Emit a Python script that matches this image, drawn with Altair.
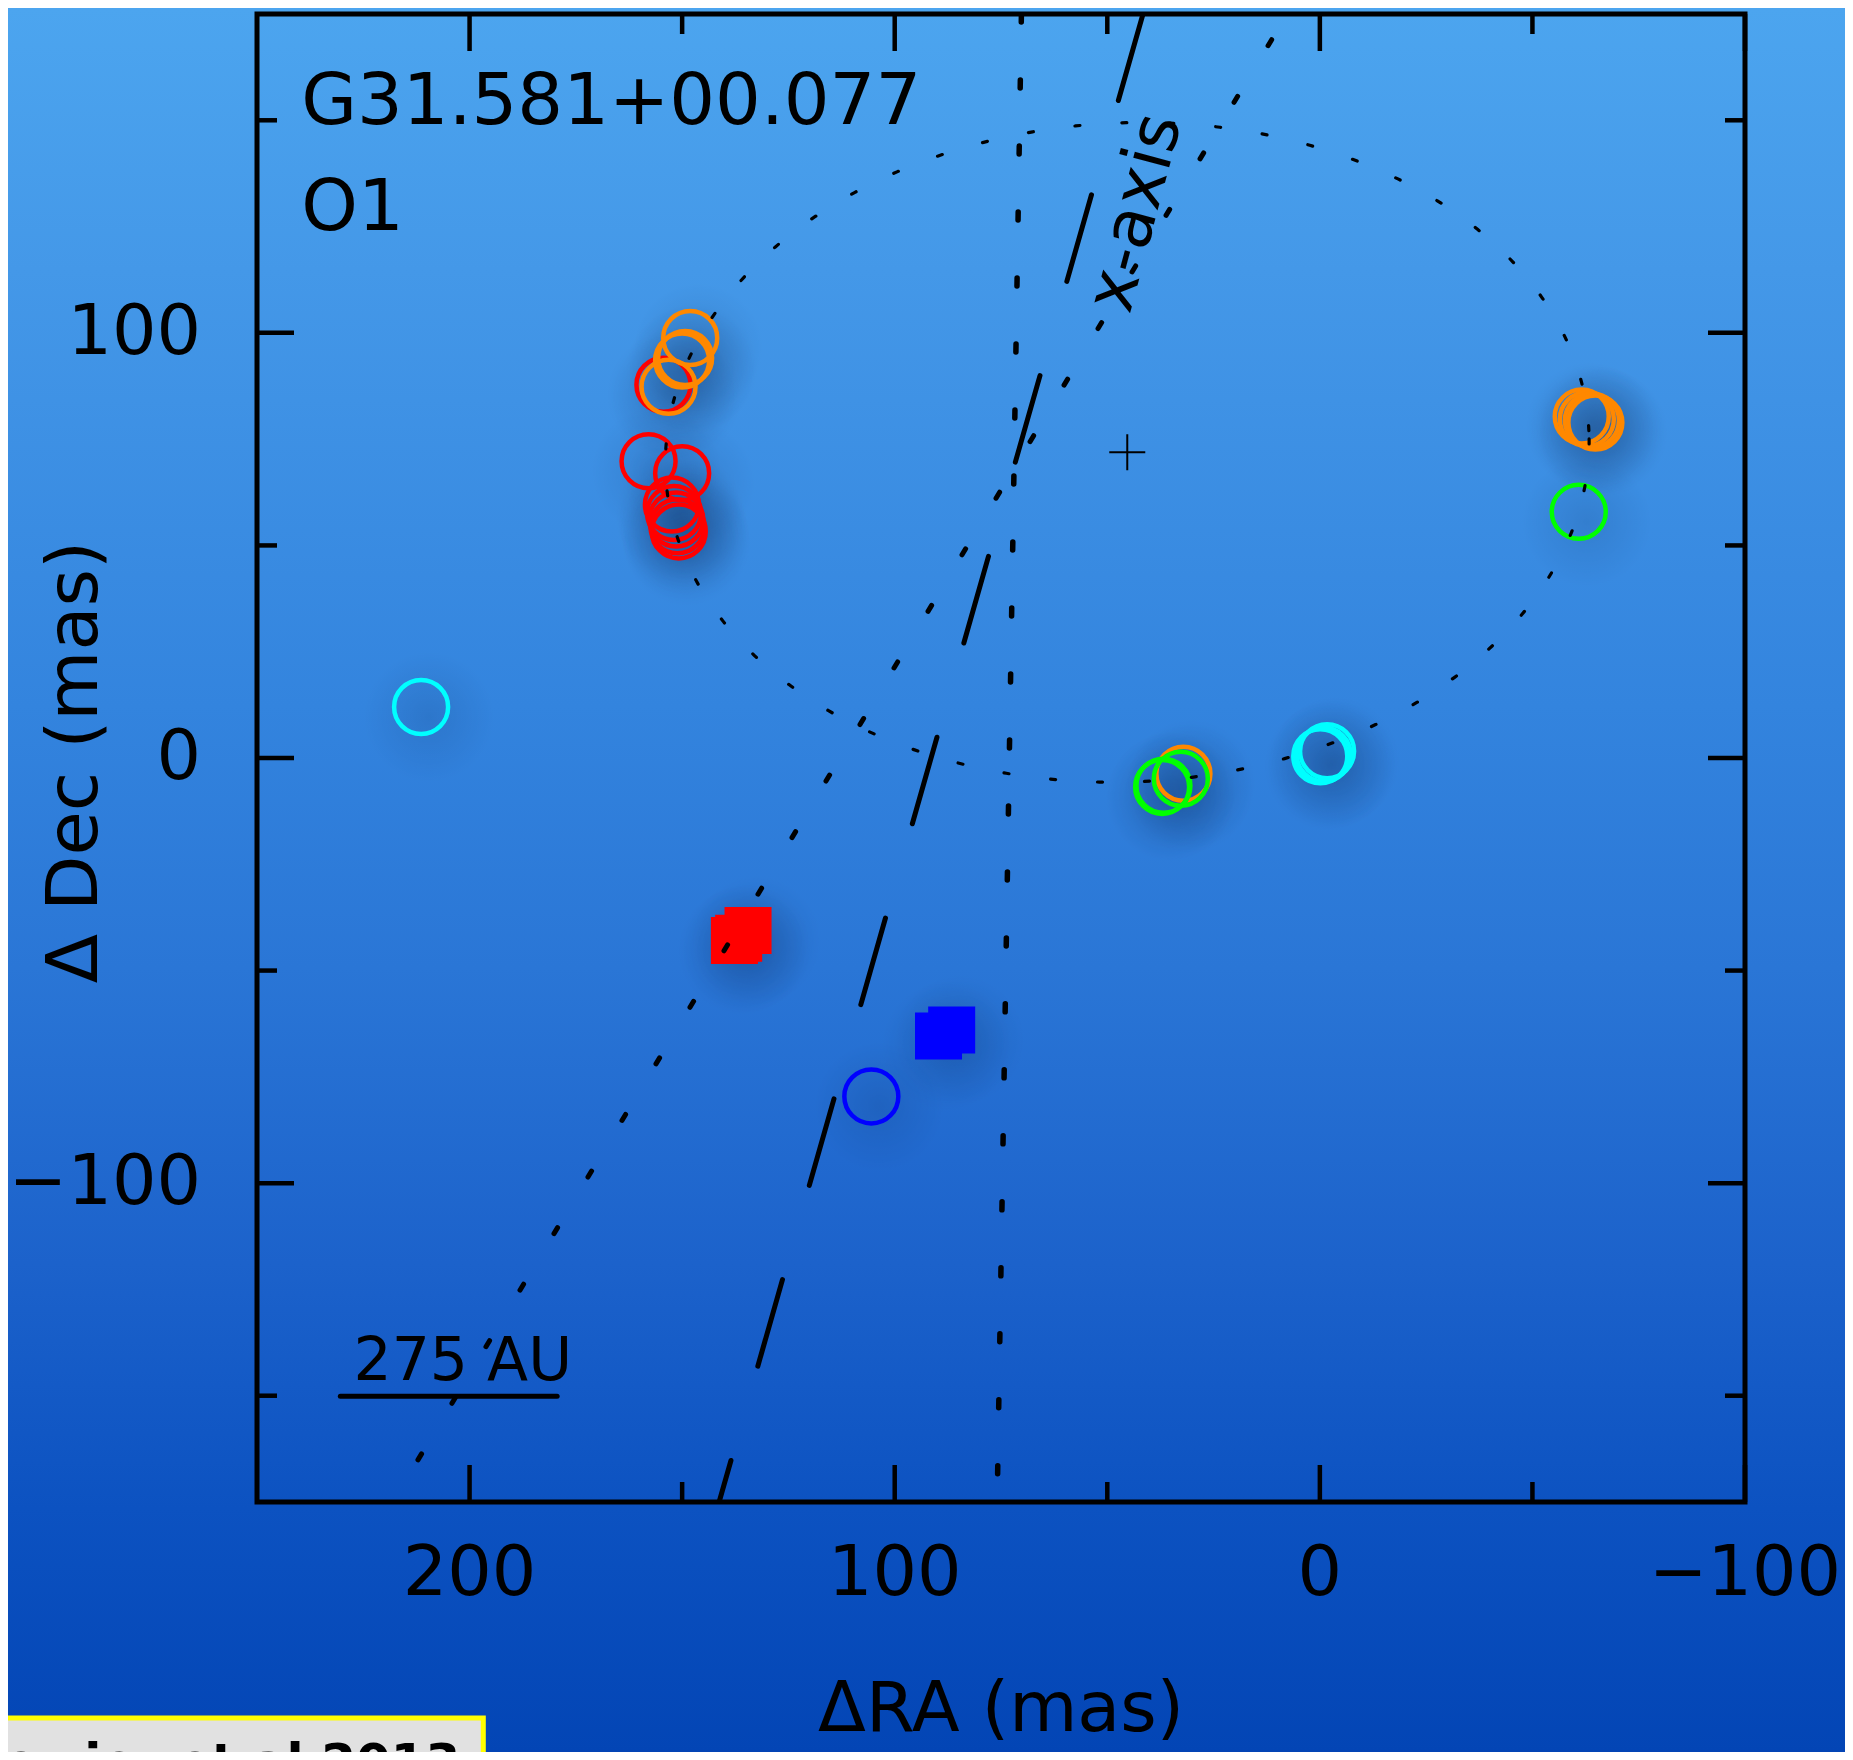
import altair as alt
import numpy as np
import pandas as pd

# ---------------- data (mas) ----------------
X_DOMAIN = [250, -100]
Y_DOMAIN = [-175, 175]

circle_ra = [154.4, 157.9, 150.0, 152.4, 151.9, 151.4, 151.1, 150.8,
             148.1, 150.0, 149.3, 153.2, -61.6, -62.8, -64.0, -64.8, 32.1,
             -60.9, 37.1, 36.8, 32.7,
             211.4, -0.1, -1.7, -0.9,
             105.5]
circle_dec = [87.8, 69.8, 67.0, 59.6, 57.6, 56.1, 54.5, 53.3,
              98.8, 93.5, 94.1, 87.3, 80.3, 79.7, 79.4, 78.9, -3.7,
              57.9, -6.8, -6.5, -4.9,
              12.0, 0.4, 1.6, 0.8,
              -79.6]
circle_group = ["red", "red", "red", "red", "red", "red", "red", "red",
                "orange", "orange", "orange", "orange", "orange", "orange", "orange", "orange", "orange",
                "green", "green", "green", "green",
                "cyan", "cyan", "cyan", "cyan",
                "blue"]

square_ra = [134.5, 137.7, 136.7, 86.6, 89.7]
square_dec = [-40.6, -42.9, -42.4, -64.0, -65.4]
square_group = ["red", "red", "red", "blue", "blue"]

group_names = ["red", "orange", "green", "cyan", "blue"]
group_colors = ["#ff0000", "#ff8800", "#00ff00", "#00ffff", "#0000ff"]

# fitted ellipse (centre, semi-axes, tilt in degrees)
ell_center = [45.3, 71.9]
ell_axes = [108.7, 77.5]
ell_tilt = 2.7

# straight lines: start (top) and end (bottom) points
long_dash_line = [[41.6, 175.0], [141.3, -175.0]]
dotted_line = [[70.2, 175.0], [75.9, -175.0]]
sparse_dash_line = [[7.7, 175.0], [218.1, -175.0]]

x_major = [200, 100, 0, -100]
x_major_labels = ["200", "100", "0", "−100"]
x_minor = [150, 50, -50]
y_major = [100, 0, -100]
y_major_labels = ["100", "0", "−100"]
y_minor = [150, 50, -50, -150]
x_title = "ΔRA (mas)"
y_title = "Δ Dec (mas)"

label_texts = ["G31.581+00.077", "O1"]
label_x = [239.6, 239.6]
label_y = [149.1, 124.2]

scalebar_x = [230.4, 179.4]
scalebar_y = -150.1
scalebar_text = "275 AU"
scalebar_text_pos = [227.3, -146.3]

axis_label_text = "x-axis"
axis_label_pos = [43.2, 128.2]
centre_cross = [45.3, 71.9]

citation = "owicz et al 2013"

# ---------------- chart ----------------
W = H = 1488
FONT = "DejaVu Sans"
xs = alt.Scale(domain=X_DOMAIN, nice=False, zero=False)
ys = alt.Scale(domain=Y_DOMAIN, nice=False, zero=False)
cs = alt.Scale(domain=group_names, range=group_colors)
one = pd.DataFrame({"a": [0]})


def X(f):
    return alt.X(f, scale=xs, axis=None)


def Y(f):
    return alt.Y(f, scale=ys, axis=None)


bg = alt.Chart(one).mark_rect(
    fill={"gradient": "linear", "x1": 0, "y1": 0, "x2": 0, "y2": 1,
          "stops": [{"offset": 0, "color": "#4ca5ef"},
                    {"offset": 0.15, "color": "#4498e8"},
                    {"offset": 0.4, "color": "#3384de"},
                    {"offset": 0.55, "color": "#2a76d6"},
                    {"offset": 0.72, "color": "#1c62cb"},
                    {"offset": 0.86, "color": "#0c52c1"},
                    {"offset": 1, "color": "#0345b5"}]},
    strokeWidth=0,
).encode(x=alt.value(-249), x2=alt.value(W + 100), y=alt.value(-6), y2=alt.value(H + 250))

cdf = pd.DataFrame({"ra": circle_ra, "dec": circle_dec, "g": circle_group})
cdf["i"] = range(len(cdf))
sdf = pd.DataFrame({"ra": square_ra, "dec": square_dec, "g": square_group})
hdf = pd.concat([cdf[["ra", "dec"]], sdf[["ra", "dec"]]], ignore_index=True)

halo = alt.Chart(hdf).mark_point(
    shape="circle", filled=True, size=130 ** 2, strokeWidth=0, xOffset=8, yOffset=10,
    fill={"gradient": "radial", "x1": 0.5, "y1": 0.5, "r1": 0, "x2": 0.5, "y2": 0.5, "r2": 0.5,
          "stops": [{"offset": 0, "color": "rgba(0,20,60,0.17)"},
                    {"offset": 1, "color": "rgba(0,20,60,0)"}]},
).encode(x=X("ra:Q"), y=Y("dec:Q"))

circles = alt.Chart(cdf).mark_point(shape="circle", filled=False, size=2916, strokeWidth=4.5, opacity=1).encode(
    x=X("ra:Q"), y=Y("dec:Q"),
    color=alt.Color("g:N", scale=cs, legend=None),
    order=alt.Order("i:Q"),
)

squares = alt.Chart(sdf).mark_point(shape="square", filled=True, size=2209, opacity=1, strokeWidth=0).encode(
    x=X("ra:Q"), y=Y("dec:Q"),
    color=alt.Color("g:N", scale=cs, legend=None),
)

t = np.linspace(0, 2 * np.pi, 401)
th = np.deg2rad(ell_tilt)
u = ell_axes[0] * np.cos(t) * np.cos(th) - ell_axes[1] * np.sin(t) * np.sin(th)
v = ell_axes[0] * np.cos(t) * np.sin(th) + ell_axes[1] * np.sin(t) * np.cos(th)
edf = pd.DataFrame({"x": ell_center[0] - u, "y": ell_center[1] + v, "i": range(len(t))})
ellipse = alt.Chart(edf).mark_line(color="black", strokeWidth=3.2, strokeDash=[5, 42], strokeCap="round").encode(
    x=X("x:Q"), y=Y("y:Q"), order="i:Q")


def seg(points, dash, width, offset=0):
    d = pd.DataFrame({"x1": [points[0][0]], "y1": [points[0][1]],
                      "x2": [points[1][0]], "y2": [points[1][1]]})
    return alt.Chart(d).mark_rule(color="black", strokeWidth=width, strokeDash=dash,
                                  strokeDashOffset=offset, strokeCap="round", clip=True).encode(
        x=X("x1:Q"), y=Y("y1:Q"), x2="x2:Q", y2="y2:Q")


lineA = seg(long_dash_line, [90, 98], 5)
lineB = seg(dotted_line, [8, 58], 5.5)
lineC = seg(sparse_dash_line, [7, 59], 5, offset=36)

cross = alt.Chart(pd.DataFrame({"x": [centre_cross[0]], "y": [centre_cross[1]]})).mark_point(
    shape="M -1 0 L 1 0 M 0 -1 L 0 1", filled=False, size=36 ** 2, color="black", strokeWidth=2, opacity=1
).encode(x=X("x:Q"), y=Y("y:Q"))

labels = alt.Chart(pd.DataFrame({"x": label_x, "y": label_y, "t": label_texts})).mark_text(
    align="left", baseline="alphabetic", font=FONT, fontSize=72, color="black"
).encode(x=X("x:Q"), y=Y("y:Q"), text="t:N")

sb = pd.DataFrame({"x1": [scalebar_x[0]], "x2": [scalebar_x[1]], "y": [scalebar_y]})
scalebar = alt.Chart(sb).mark_rule(color="black", strokeWidth=5, strokeCap="round").encode(
    x=X("x1:Q"), x2="x2:Q", y=Y("y:Q"))
sbtext = alt.Chart(pd.DataFrame({"x": [scalebar_text_pos[0]], "y": [scalebar_text_pos[1]], "t": [scalebar_text]})).mark_text(
    align="left", baseline="alphabetic", font=FONT, fontSize=60, color="black"
).encode(x=X("x:Q"), y=Y("y:Q"), text="t:N")

axlabel = alt.Chart(pd.DataFrame({"x": [axis_label_pos[0]], "y": [axis_label_pos[1]], "t": [axis_label_text]})).mark_text(
    align="center", baseline="middle", font=FONT, fontSize=68, angle=285, color="black"
).encode(x=X("x:Q"), y=Y("y:Q"), text="t:N")

frame = alt.Chart(one).mark_rect(fill="transparent", stroke="black", strokeWidth=5).encode(
    x=alt.value(0), x2=alt.value(W), y=alt.value(0), y2=alt.value(H))


def xticks(vals, length):
    d = pd.DataFrame({"v": vals})
    bot = alt.Chart(d).mark_rule(color="black", strokeWidth=4.5).encode(
        x=X("v:Q"), y=alt.value(H), y2=alt.value(H - length))
    top = alt.Chart(d).mark_rule(color="black", strokeWidth=4.5).encode(
        x=X("v:Q"), y=alt.value(0), y2=alt.value(length))
    return [bot, top]


def yticks(vals, length):
    d = pd.DataFrame({"v": vals})
    left = alt.Chart(d).mark_rule(color="black", strokeWidth=4.5).encode(
        y=Y("v:Q"), x=alt.value(0), x2=alt.value(length))
    right = alt.Chart(d).mark_rule(color="black", strokeWidth=4.5).encode(
        y=Y("v:Q"), x=alt.value(W), x2=alt.value(W - length))
    return [left, right]


ticks = xticks(x_major, 37) + xticks(x_minor, 20) + yticks(y_major, 37) + yticks(y_minor, 20)

# tick labels and axis titles
xlab = alt.Chart(pd.DataFrame({"v": x_major, "t": x_major_labels})).mark_text(
    align="center", baseline="top", font=FONT, fontSize=70, color="black"
).encode(x=X("v:Q"), y=alt.value(H + 38), text="t:N")
ylab = alt.Chart(pd.DataFrame({"v": y_major, "t": y_major_labels})).mark_text(
    align="right", baseline="middle", font=FONT, fontSize=70, color="black"
).encode(y=Y("v:Q"), x=alt.value(-56), text="t:N")
xtitle = alt.Chart(pd.DataFrame({"t": [x_title]})).mark_text(
    align="center", baseline="alphabetic", font=FONT, fontSize=70, color="black"
).encode(x=alt.value(W / 2), y=alt.value(1717), text="t:N")
ytitle = alt.Chart(pd.DataFrame({"t": [y_title]})).mark_text(
    align="center", baseline="alphabetic", font=FONT, fontSize=72, angle=270, color="black"
).encode(x=alt.value(-160), y=alt.value(H / 2 + 4), text="t:N")

cite_box = alt.Chart(one).mark_rect(fill="#e1e1e1", stroke="#ffff00", strokeWidth=5).encode(
    x=alt.value(-262), x2=alt.value(226.3), y=alt.value(1704), y2=alt.value(1800))
cite_text = alt.Chart(pd.DataFrame({"t": [citation]})).mark_text(
    align="right", baseline="alphabetic", font=FONT, fontSize=50, fontWeight="bold", color="black"
).encode(x=alt.value(203.3), y=alt.value(1765), text="t:N")

chart = alt.layer(
    bg, halo, circles, squares, ellipse, lineA, lineB, lineC, cross, labels,
    scalebar, sbtext, axlabel, frame, *ticks, xlab, ylab, xtitle, ytitle, cite_box, cite_text
).properties(
    width=W, height=H,
    autosize=alt.AutoSizeParams(type="none"),
    padding={"left": 249, "top": 6, "right": 100, "bottom": 250},
).configure_view(stroke=None).configure(background="#2a76d6")

chart.save("out.html", embed_options={"renderer": "svg", "actions": False})
